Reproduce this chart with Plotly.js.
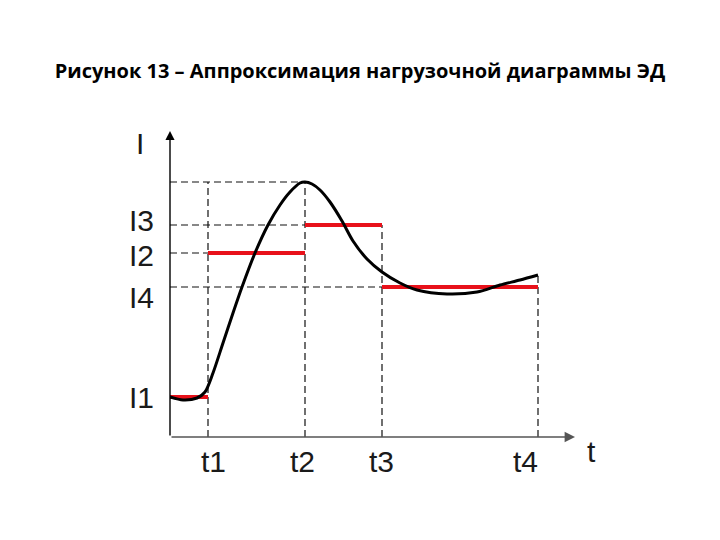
<!DOCTYPE html>
<html>
<head>
<meta charset="utf-8">
<script src="https://cdn.plot.ly/plotly-3.0.1.min.js"></script>
<style>html,body{margin:0;padding:0;background:#fff;}#chart{width:720px;height:540px;}</style>
</head>
<body>
<div id="chart"></div>
<script>
// Time instants (arbitrary units) and current levels
const tNames = ["t1", "t2", "t3", "t4"];
const tValues = [38, 135, 212, 368];
const iNames = ["I1", "I2", "I3", "I4"];
const iValues = [40, 184, 212, 150];
const peakI = 255;
const endI = 162;

// Load curve I(t)
const curveT = [0, 13, 27, 35, 43, 53, 63, 72, 85, 98, 110, 120, 130, 135, 142, 150, 160, 172, 183, 197, 212, 230, 247, 277, 307, 330, 350, 368];
const curveI = [40, 37, 39, 45, 64, 94, 124, 150, 184, 212, 232, 245, 254, 255, 253, 247, 235, 216, 196, 178, 165, 154, 147, 143, 145, 152, 157, 162];

const dashStyle = {color: "#111", width: 1.2, dash: "7px,4px"};
const traces = [];
function seg(x, y, line) {
  traces.push({x: x, y: y, mode: "lines", line: line, hoverinfo: "skip", showlegend: false});
}
// guide lines
seg([0, tValues[1]], [peakI, peakI], dashStyle);
seg([0, tValues[1]], [iValues[2], iValues[2]], dashStyle);
seg([0, tValues[0]], [iValues[1], iValues[1]], dashStyle);
seg([0, tValues[2]], [iValues[3], iValues[3]], dashStyle);
seg([tValues[0], tValues[0]], [0, peakI], dashStyle);
seg([tValues[1], tValues[1]], [0, peakI], dashStyle);
seg([tValues[2], tValues[2]], [0, iValues[2]], dashStyle);
seg([tValues[3], tValues[3]], [0, endI], dashStyle);

// approximation steps
const red = {color: "#e8111a", width: 4};
const starts = [0, tValues[0], tValues[1], tValues[2]];
for (let k = 0; k < 4; k++) {
  seg([starts[k], tValues[k]], [iValues[k], iValues[k]], red);
}

// load curve
traces.push({x: curveT, y: curveI, mode: "lines", line: {color: "#000", width: 3, shape: "spline", smoothing: 0.8}, hoverinfo: "skip", showlegend: false});

const labelFont = {family: "Liberation Sans, Arial, sans-serif", size: 30, color: "#1a1a1a"};
const annotations = [];
// axes with arrows
annotations.push({x: 405, y: 0, ax: 0, ay: 0, xref: "x", yref: "y", axref: "x", ayref: "y", text: "", showarrow: true, arrowhead: 2, arrowsize: 1.3, arrowwidth: 1.6, arrowcolor: "#555", standoff: 0});
annotations.push({x: 0, y: 306, ax: 0, ay: 0, xref: "x", yref: "y", axref: "x", ayref: "y", text: "", showarrow: true, arrowhead: 2, arrowsize: 1.3, arrowwidth: 1.4, arrowcolor: "#000", standoff: 0});
annotations.push({x: 0, y: 306, xref: "x", yref: "y", text: "I", showarrow: false, font: labelFont, xanchor: "center", yanchor: "middle", xshift: -30, yshift: -12});
annotations.push({x: 405, y: 0, xref: "x", yref: "y", text: "t", showarrow: false, font: labelFont, xanchor: "center", yanchor: "middle", xshift: 16, yshift: -14});
const tShift = [5, -3, -1, -13];
tNames.forEach((n, k) => annotations.push({x: tValues[k], y: 0, xref: "x", yref: "y", text: n, showarrow: false, font: labelFont, xanchor: "center", yanchor: "middle", xshift: tShift[k], yshift: -24}));
const iShift = [0, -2, 5, -10];
iNames.forEach((n, k) => annotations.push({x: 0, y: iValues[k], xref: "x", yref: "y", text: n, showarrow: false, font: labelFont, xanchor: "right", yanchor: "middle", xshift: -14, yshift: iShift[k]}));

const layout = {
  width: 720, height: 540,
  margin: {l: 170, r: 140, t: 130, b: 103},
  paper_bgcolor: "#fff", plot_bgcolor: "#fff",
  title: {text: "Рисунок 13 – Аппроксимация нагрузочной диаграммы ЭД", xref: "container", x: 0.5, xanchor: "center", yref: "container", y: 1 - 71 / 540, yanchor: "middle",
          font: {family: "Open Sans, sans-serif", size: 20, color: "#000", weight: "bold"}},
  xaxis: {range: [0, 410], visible: false, fixedrange: true},
  yaxis: {range: [0, 307], visible: false, fixedrange: true},
  annotations: annotations,
  showlegend: false
};
Plotly.newPlot("chart", traces, layout, {displayModeBar: false, staticPlot: true});
</script>
</body>
</html>
